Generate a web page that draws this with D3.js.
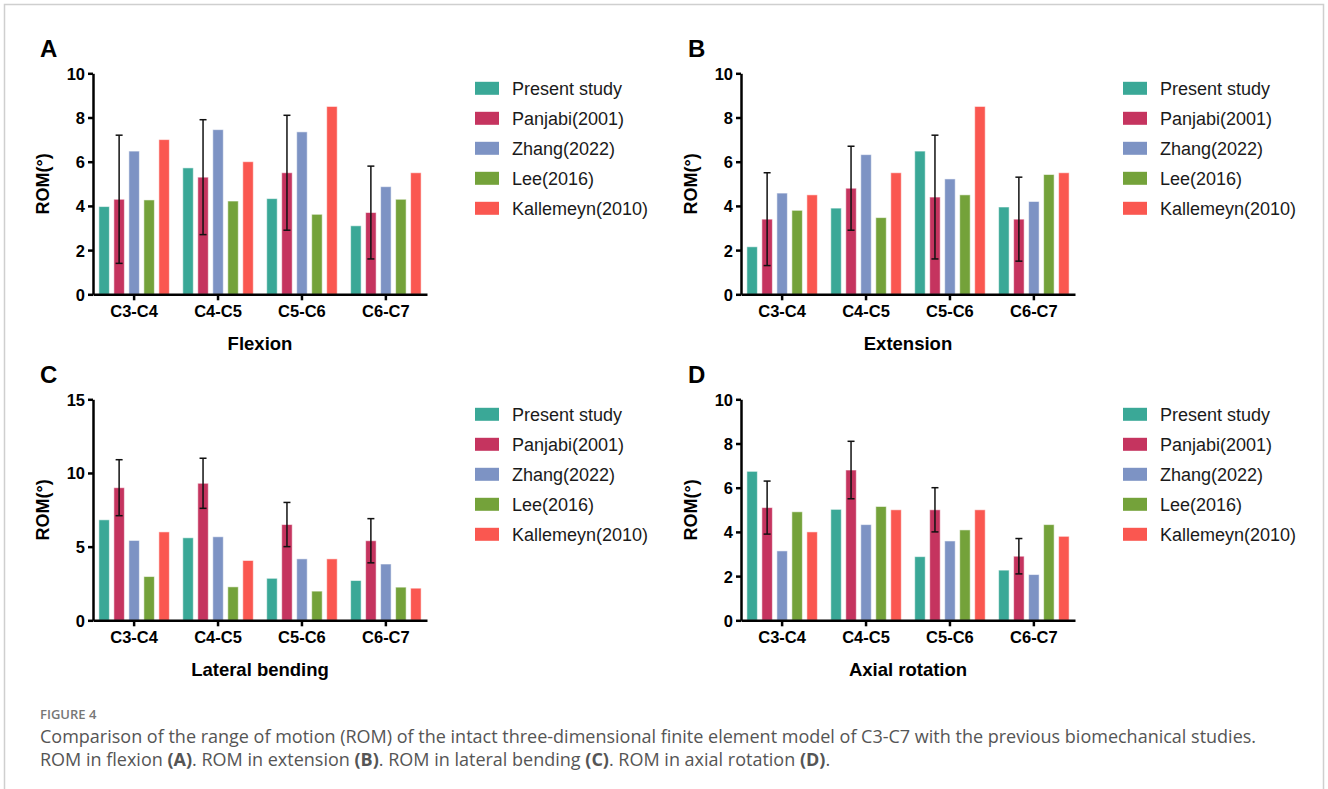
<!DOCTYPE html>
<html>
<head>
<meta charset="utf-8">
<script src="https://cdn.jsdelivr.net/npm/d3@7"></script>
<style>
  html, body { margin: 0; padding: 0; background: #fff; }
  svg { display: block; }
</style>
</head>
<body>
<svg id="chart" width="1328" height="789"></svg>
<script>
// ROM comparison, four grouped bar panels
const categories = ["C3-C4", "C4-C5", "C5-C6", "C6-C7"];
const series = ["Present study", "Panjabi(2001)", "Zhang(2022)", "Lee(2016)", "Kallemeyn(2010)"];
const seriesColors = ["#3aa897", "#c5345f", "#7d93c4", "#74a23a", "#fa5750"];

// rows follow the series order
const flexionValues = [
    [3.97, 5.72, 4.33, 3.10],
    [4.30, 5.30, 5.50, 3.70],
    [6.48, 7.45, 7.35, 4.87],
    [4.27, 4.22, 3.62, 4.30],
    [7.00, 6.00, 8.50, 5.50]
];
const flexionSD = [2.9, 2.6, 2.6, 2.1];      // Panjabi error bars

const extensionValues = [
    [2.15, 3.90, 6.48, 3.95],
    [3.40, 4.80, 4.40, 3.40],
    [4.58, 6.32, 5.22, 4.20],
    [3.80, 3.47, 4.50, 5.42],
    [4.50, 5.50, 8.50, 5.50]
];
const extensionSD = [2.1, 1.9, 2.8, 1.9];

const lateralValues = [
    [6.82, 5.60, 2.85, 2.70],
    [9.00, 9.30, 6.50, 5.40],
    [5.42, 5.67, 4.17, 3.82],
    [2.97, 2.27, 1.98, 2.25],
    [6.00, 4.06, 4.17, 2.18]
];
const lateralSD = [1.9, 1.7, 1.5, 1.5];

const axialValues = [
    [6.74, 5.02, 2.88, 2.27],
    [5.10, 6.80, 5.00, 2.90],
    [3.14, 4.33, 3.59, 2.07],
    [4.91, 5.15, 4.09, 4.33],
    [4.00, 5.00, 5.00, 3.80]
];
const axialSD = [1.2, 1.3, 1.0, 0.8];

const panelTitles = ["Flexion", "Extension", "Lateral bending", "Axial rotation"];
const panelLetters = ["A", "B", "C", "D"];
const yMaxes = [10, 10, 15, 10];
const yTickSteps = [2, 2, 5, 2];

const captionHead = "FIGURE 4";
const captionLine1 = "Comparison of the range of motion (ROM) of the intact three-dimensional finite element model of C3-C7 with the previous biomechanical studies.";

const svg = d3.select("#chart");
const AXIS_FONT = "'Liberation Sans', Arial, Helvetica, sans-serif";

// frame
svg.append("path")
    .attr("d", "M4.5,789 V4.5 H1323.5 V789")
    .attr("fill", "none")
    .attr("stroke", "#cfcfcf")
    .attr("stroke-width", 1.5);

const panels = [
    { values: flexionValues, sd: flexionSD, x0: 93, y0: 73.3 },
    { values: extensionValues, sd: extensionSD, x0: 741, y0: 73.3 },
    { values: lateralValues, sd: lateralSD, x0: 93, y0: 399.3 },
    { values: axialValues, sd: axialSD, x0: 741, y0: 399.3 }
];

const plotW = 334, plotH = 221;

panels.forEach((p, i) => {
    const g = svg.append("g");

    const x = d3.scaleBand()
        .domain(categories)
        .range([p.x0, p.x0 + plotW])
        .paddingInner(0.16)
        .paddingOuter(0.07);

    const xs = d3.scaleBand()
        .domain(series)
        .range([0, x.bandwidth()])
        .paddingInner(0.3);

    const y = d3.scaleLinear()
        .domain([0, yMaxes[i]])
        .range([p.y0 + plotH, p.y0]);

    // bars
    series.forEach((s, si) => {
        g.append("g").selectAll("rect")
            .data(p.values[si])
            .enter().append("rect")
            .attr("x", (d, ci) => x(categories[ci]) + xs(s))
            .attr("y", d => y(d))
            .attr("width", xs.bandwidth())
            .attr("height", d => y(0) - y(d))
            .attr("fill", seriesColors[si])
            .attr("stroke", "rgba(255,255,255,0.55)")
            .attr("stroke-width", 1);
    });

    // error bars on Panjabi(2001)
    const eb = g.append("g").selectAll("g")
        .data(p.values[1].map((v, ci) => ({ v, sd: p.sd[ci], c: categories[ci] })))
        .enter().append("g")
        .attr("stroke", "#111")
        .attr("stroke-width", 1.5);
    const cx = d => x(d.c) + xs(series[1]) + xs.bandwidth() / 2;
    eb.append("line")
        .attr("x1", cx).attr("x2", cx)
        .attr("y1", d => y(d.v - d.sd)).attr("y2", d => y(d.v + d.sd));
    eb.append("line")
        .attr("x1", d => cx(d) - 3.5).attr("x2", d => cx(d) + 3.5)
        .attr("y1", d => y(d.v + d.sd)).attr("y2", d => y(d.v + d.sd));
    eb.append("line")
        .attr("x1", d => cx(d) - 3.5).attr("x2", d => cx(d) + 3.5)
        .attr("y1", d => y(d.v - d.sd)).attr("y2", d => y(d.v - d.sd));

    // axes
    const yAxis = g.append("g")
        .attr("transform", `translate(${p.x0},0)`)
        .call(d3.axisLeft(y)
            .tickValues(d3.range(0, yMaxes[i] + 0.01, yTickSteps[i]))
            .tickSize(5)
            .tickPadding(3)
            .tickSizeOuter(0));

    const xAxis = g.append("g")
        .attr("transform", `translate(0,${p.y0 + plotH})`)
        .call(d3.axisBottom(x).tickSize(6).tickPadding(5).tickSizeOuter(0));

    [yAxis, xAxis].forEach(a => {
        a.select(".domain").attr("stroke", "#000").attr("stroke-width", 2.5);
        a.selectAll(".tick line").attr("stroke", "#000").attr("stroke-width", 2.5);
        a.selectAll(".tick text")
            .attr("fill", "#000")
            .style("font-family", AXIS_FONT)
            .style("font-weight", "bold")
            .style("font-size", "16.5px");
    });
    yAxis.selectAll(".tick text").attr("dy", "0.36em");

    // axis titles
    g.append("text")
        .attr("x", p.x0 + plotW / 2)
        .attr("y", p.y0 + plotH + 56)
        .attr("text-anchor", "middle")
        .style("font-family", AXIS_FONT)
        .style("font-weight", "bold")
        .style("font-size", "18.5px")
        .text(panelTitles[i]);

    g.append("text")
        .attr("transform", `translate(${p.x0 - 44},${p.y0 + plotH / 2}) rotate(-90)`)
        .attr("text-anchor", "middle")
        .style("font-family", AXIS_FONT)
        .style("font-weight", "bold")
        .style("font-size", "18px")
        .text("ROM(°)");

    // panel letter
    g.append("text")
        .attr("x", p.x0 - 53)
        .attr("y", p.y0 - 16)
        .style("font-family", AXIS_FONT)
        .style("font-weight", "bold")
        .style("font-size", "24px")
        .text(panelLetters[i]);

    // legend
    const lg = g.append("g")
        .attr("transform", `translate(${p.x0 + 382},${p.y0 + 15})`);
    const rows = lg.selectAll("g")
        .data(series)
        .enter().append("g")
        .attr("transform", (d, k) => `translate(0,${k * 30})`);
    rows.append("rect")
        .attr("x", 0).attr("y", -6.5)
        .attr("width", 24).attr("height", 13)
        .attr("fill", (d, k) => seriesColors[k]);
    rows.append("text")
        .attr("x", 37).attr("y", 0).attr("dy", "0.36em")
        .style("font-family", AXIS_FONT)
        .style("font-size", "18px")
        .attr("fill", "#1a1a1a")
        .text(d => d);
});

// caption
const CAP_FONT = "'Open Sans', 'Noto Sans', sans-serif";
svg.append("text")
    .attr("x", 40).attr("y", 719)
    .style("font-family", CAP_FONT)
    .style("font-weight", 600)
    .style("font-size", "13px")
    .attr("fill", "#777")
    .text(captionHead);

svg.append("text")
    .attr("x", 40).attr("y", 743)
    .style("font-family", CAP_FONT)
    .style("font-size", "18px")
    .attr("fill", "#555")
    .text(captionLine1);

const line2 = svg.append("text")
    .attr("x", 40).attr("y", 766)
    .style("font-family", CAP_FONT)
    .style("font-size", "18px")
    .attr("fill", "#555");
[["ROM in flexion ", false], ["(A)", true], [". ROM in extension ", false], ["(B)", true],
 [". ROM in lateral bending ", false], ["(C)", true], [". ROM in axial rotation ", false], ["(D)", true], [".", false]]
    .forEach(([t, b]) => {
        line2.append("tspan")
            .style("font-weight", b ? 700 : 400)
            .text(t);
    });
</script>
</body>
</html>
